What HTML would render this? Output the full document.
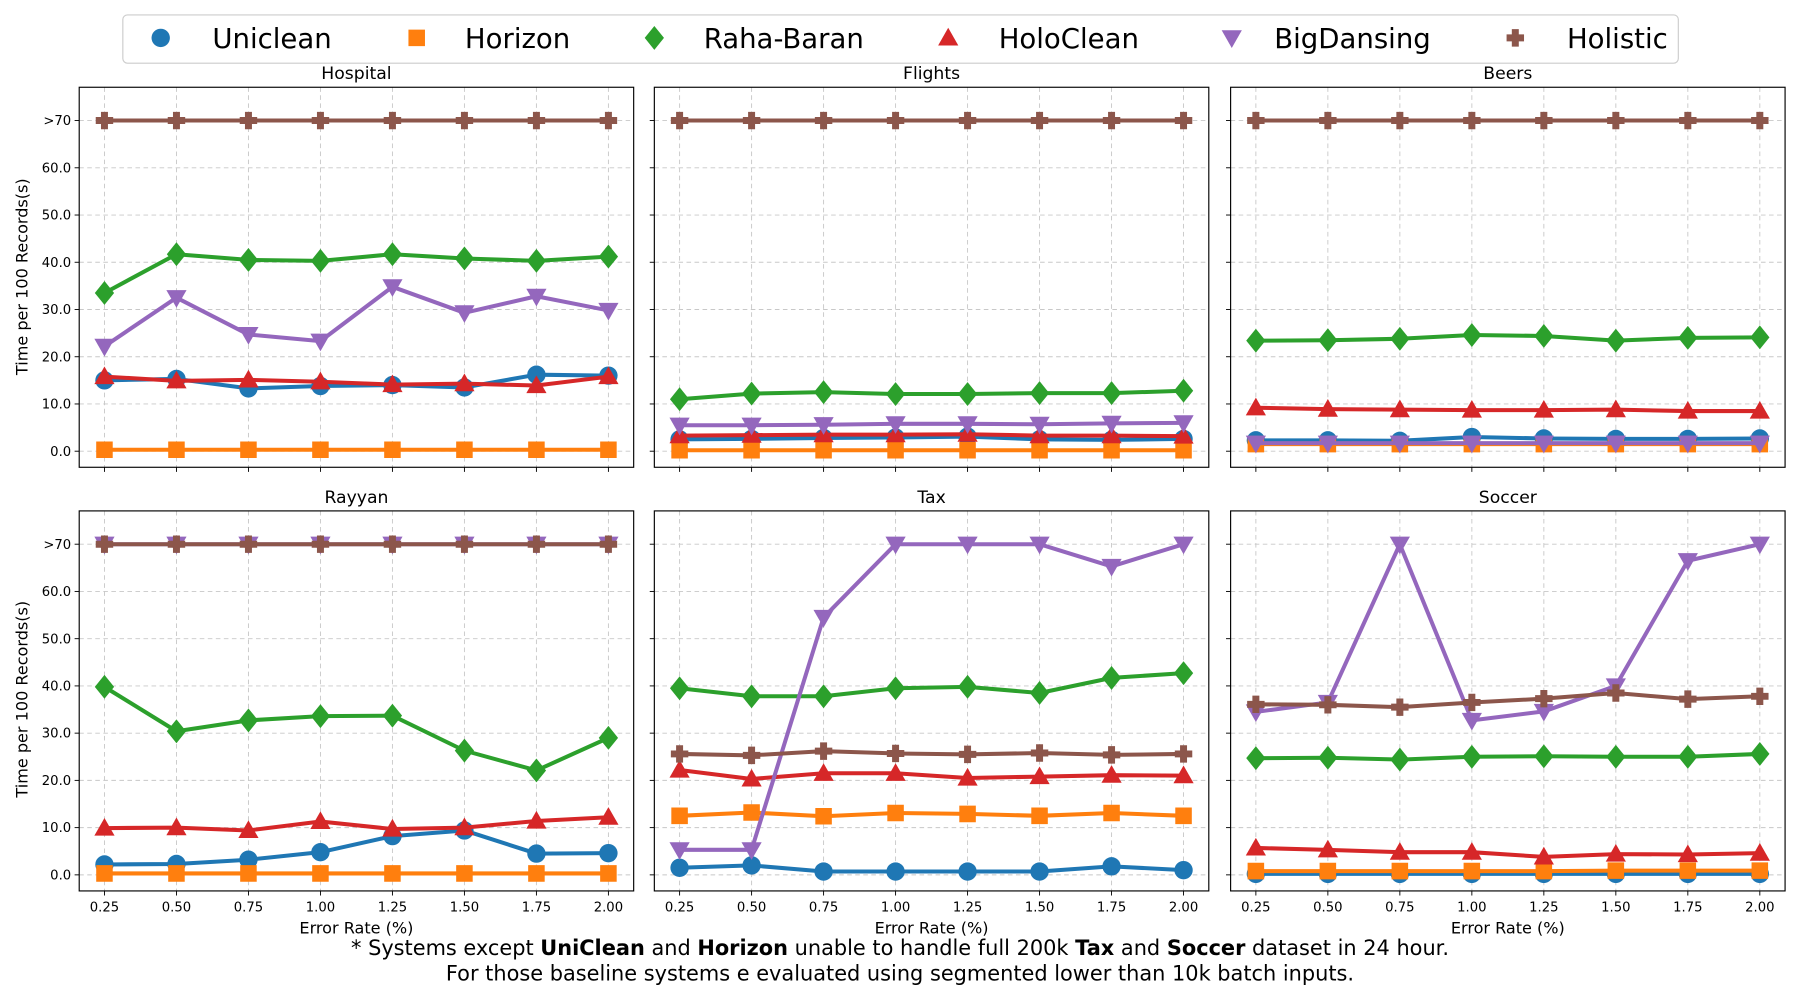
<!DOCTYPE html>
<html><head><meta charset="utf-8"><style>
html,body{margin:0;padding:0;background:#fff;}
svg{display:block;font-family:"DejaVu Sans","Liberation Sans",sans-serif;}
</style></head><body>
<svg id="chart" width="1800" height="1000" viewBox="0 0 1568 871" preserveAspectRatio="none" xmlns="http://www.w3.org/2000/svg">
<rect x="0" y="0" width="1568" height="871" fill="#fff"/>
<g id="legend">
<rect x="107" y="13" width="1355" height="42" rx="4" fill="#fff" stroke="#ccc" stroke-width="1"/>
</g>
<g id="panels"></g>
<text x="24" y="241" transform="rotate(-90 24 241)" text-anchor="middle" font-size="14">Time per 100 Records(s)</text>
<text x="24" y="609" transform="rotate(-90 24 609)" text-anchor="middle" font-size="14">Time per 100 Records(s)</text>
<text x="784" y="832" text-anchor="middle" font-size="18.2">* Systems except <tspan font-weight="bold">UniClean</tspan> and <tspan font-weight="bold">Horizon</tspan> unable to handle full 200k <tspan font-weight="bold">Tax</tspan> and <tspan font-weight="bold">Soccer</tspan> dataset in 24 hour.</text>
<text x="784" y="854" text-anchor="middle" font-size="18.2">For those baseline systems e evaluated using segmented lower than 10k batch inputs.</text>
</svg>
<script>
const xValues = [0.25,0.5,0.75,1.0,1.25,1.5,1.75,2.0];
const xTickLabels = ["0.25","0.50","0.75","1.00","1.25","1.50","1.75","2.00"];
const yTickValues = [0,10,20,30,40,50,60,70];
const yTickLabels = ["0.0","10.0","20.0","30.0","40.0","50.0","60.0",">70"];
const seriesNames = ["Uniclean","Horizon","Raha-Baran","HoloClean","BigDansing","Holistic"];
const seriesColors = ["#1f77b4","#ff7f0e","#2ca02c","#d62728","#9467bd","#8c564b"];
const seriesMarkers = ["circle","square","diamond","tri-up","tri-down","plus"];
const datasetNames = ["Hospital","Flights","Beers","Rayyan","Tax","Soccer"];

const hospitalUniclean = [15,15.3,13.3,13.8,14,13.5,16.2,16];
const hospitalHorizon = [0.3,0.3,0.3,0.3,0.3,0.3,0.3,0.3];
const hospitalRaha = [33.5,41.7,40.5,40.3,41.7,40.8,40.3,41.2];
const hospitalHolo = [15.8,14.9,15.1,14.7,14.1,14.3,13.9,15.8];
const hospitalBigD = [22.2,32.5,24.7,23.3,34.8,29.3,32.8,29.8];
const hospitalHolistic = [70,70,70,70,70,70,70,70];

const flightsUniclean = [2.5,2.6,2.8,2.9,3.1,2.5,2.4,2.6];
const flightsHorizon = [0.2,0.2,0.2,0.2,0.2,0.2,0.2,0.2];
const flightsRaha = [11,12.2,12.5,12.1,12.1,12.3,12.3,12.8];
const flightsHolo = [3.3,3.4,3.5,3.5,3.6,3.3,3.3,3.2];
const flightsBigD = [5.5,5.5,5.6,5.8,5.8,5.7,5.9,6.0];
const flightsHolistic = [70,70,70,70,70,70,70,70];

const beersUniclean = [2.3,2.3,2.2,3.0,2.7,2.6,2.6,2.7];
const beersHorizon = [1.5,1.5,1.5,1.5,1.5,1.5,1.5,1.5];
const beersRaha = [23.4,23.5,23.8,24.6,24.4,23.4,24,24.1];
const beersHolo = [9.2,8.9,8.8,8.7,8.7,8.8,8.5,8.5];
const beersBigD = [1.7,1.7,1.7,1.7,1.7,1.7,1.7,1.7];
const beersHolistic = [70,70,70,70,70,70,70,70];

const rayyanUniclean = [2.2,2.3,3.2,4.8,8.2,9.4,4.5,4.6];
const rayyanHorizon = [0.3,0.3,0.3,0.3,0.3,0.3,0.3,0.3];
const rayyanRaha = [39.8,30.4,32.7,33.6,33.7,26.3,22.1,29];
const rayyanHolo = [9.9,10,9.4,11.3,9.7,10,11.4,12.2];
const rayyanBigD = [70,70,70,70,70,70,70,70];
const rayyanHolistic = [70,70,70,70,70,70,70,70];

const taxUniclean = [1.5,2.0,0.7,0.7,0.7,0.7,1.8,1.0];
const taxHorizon = [12.5,13.2,12.4,13.1,12.9,12.5,13.1,12.5];
const taxRaha = [39.5,37.8,37.8,39.5,39.8,38.5,41.7,42.7];
const taxHolo = [22.2,20.3,21.5,21.5,20.5,20.8,21.1,21];
const taxBigD = [5.3,5.3,54.5,70,70,70,65.3,70];
const taxHolistic = [25.6,25.3,26.2,25.7,25.5,25.8,25.4,25.6];

const soccerUniclean = [0.2,0.2,0.2,0.2,0.2,0.2,0.2,0.2];
const soccerHorizon = [0.8,0.8,0.8,0.8,0.8,0.9,0.9,0.9];
const soccerRaha = [24.7,24.8,24.4,25,25.1,25,25,25.6];
const soccerHolo = [5.7,5.3,4.8,4.8,3.8,4.4,4.3,4.6];
const soccerBigD = [34.5,36.5,70,32.7,34.6,40,66.5,70];
const soccerHolistic = [36.1,36,35.5,36.5,37.3,38.5,37.2,37.8];

const allData = [
 [hospitalUniclean,hospitalHorizon,hospitalRaha,hospitalHolo,hospitalBigD,hospitalHolistic],
 [flightsUniclean,flightsHorizon,flightsRaha,flightsHolo,flightsBigD,flightsHolistic],
 [beersUniclean,beersHorizon,beersRaha,beersHolo,beersBigD,beersHolistic],
 [rayyanUniclean,rayyanHorizon,rayyanRaha,rayyanHolo,rayyanBigD,rayyanHolistic],
 [taxUniclean,taxHorizon,taxRaha,taxHolo,taxBigD,taxHolistic],
 [soccerUniclean,soccerHorizon,soccerRaha,soccerHolo,soccerBigD,soccerHolistic]
];

const NS = "http://www.w3.org/2000/svg";
function mk(tag, attrs, parent){const e=document.createElementNS(NS,tag);for(const k in attrs)e.setAttribute(k,attrs[k]);if(parent)parent.appendChild(e);return e;}

function markerPath(type, cx, cy, s){
  if(type==="circle") return `M${cx-s},${cy}a${s},${s} 0 1,0 ${2*s},0a${s},${s} 0 1,0 ${-2*s},0Z`;
  if(type==="square"){const h=s*0.9;return `M${cx-h},${cy-h}h${2*h}v${2*h}h${-2*h}Z`;}
  if(type==="diamond"){const w=s*1.05,h=s*1.3;return `M${cx},${cy-h}L${cx+w},${cy}L${cx},${cy+h}L${cx-w},${cy}Z`;}
  if(type==="tri-up"){const h=s*1.1;return `M${cx},${cy-h}L${cx+h},${cy+h*0.75}L${cx-h},${cy+h*0.75}Z`;}
  if(type==="tri-down"){const h=s*1.1;return `M${cx},${cy+h}L${cx+h},${cy-h*0.75}L${cx-h},${cy-h*0.75}Z`;}
  if(type==="plus"){const a=s*0.95,b=s*0.38;return `M${cx-b},${cy-a}h${2*b}v${a-b}h${a-b}v${2*b}h${b-a}v${a-b}h${-2*b}v${b-a}h${b-a}v${-2*b}h${a-b}Z`;}
}

const legend = document.getElementById('legend');
const legMX = [140,363,570,826,1073,1320];
const legTX = [185,405,613,870,1110,1365];
seriesNames.forEach((n,i)=>{
  const g = mk('g',{},legend);
  
  
  mk('path',{d:markerPath(seriesMarkers[i],legMX[i],33,8),fill:seriesColors[i]},g);
  const t = mk('text',{x:legTX[i],y:42,'font-size':24},g);
  t.textContent = n;
});

const panelsG = document.getElementById('panels');
const colX = [69,570,1072];
const rowY = [76,445];
const PW = 483, PH = 331;
const xMin = 0.1623, xMax = 2.0877;

datasetNames.forEach((ds,di)=>{
  const col = di%3, row = Math.floor(di/3);
  const L = colX[col], T = rowY[row];
  const zeroY = T + 317, pxPer = 288/70;
  const xs = v => L + (v - xMin)/(xMax - xMin)*PW;
  const ys = v => zeroY - v*pxPer;
  const g = mk('g',{},panelsG);
  
  
  const title = mk('text',{x:L+PW/2,y:T-7,'text-anchor':'middle','font-size':15},g);
  
  
  title.textContent = ds;
  yTickValues.forEach((v,i)=>{
    const y = ys(v);
    mk('line',{x1:L,x2:L+PW,y1:y,y2:y,stroke:'#c8c8c8','stroke-width':0.8,'stroke-dasharray':'4,3'},g);
    mk('line',{x1:L-4,x2:L,y1:y,y2:y,stroke:'#000','stroke-width':0.8},g);
    if(col===0){
      const t = mk('text',{x:L-7,y:y+4,'text-anchor':'end','font-size':11.5},g);
      
      
      t.textContent = yTickLabels[i];
    }
  });
  xValues.forEach((v,i)=>{
    const x = xs(v);
    mk('line',{x1:x,x2:x,y1:T,y2:T+PH,stroke:'#c8c8c8','stroke-width':0.8,'stroke-dasharray':'4,3'},g);
    mk('line',{x1:x,x2:x,y1:T+PH,y2:T+PH+4,stroke:'#000','stroke-width':0.8},g);
    if(row===1){
      const t = mk('text',{x:x,y:T+PH+18,'text-anchor':'middle','font-size':11.5},g);
      
      
      t.textContent = xTickLabels[i];
    }
  });
  if(row===1){
    const t = mk('text',{x:L+PW/2,y:T+PH+37,'text-anchor':'middle','font-size':14},g);
    
    
    t.textContent = 'Error Rate (%)';
  }
  const frame = mk('rect',{x:L,y:T,width:PW,height:PH,fill:'none',stroke:'#000','stroke-width':1},g);
  
  
  allData[di].forEach((vals,si)=>{
    const sg = mk('g',{},g);
    
    
    const pts = vals.map((v,i)=>xs(xValues[i])+','+ys(v)).join(' ');
    const pl = mk('polyline',{points:pts,fill:'none',stroke:seriesColors[si],'stroke-width':3.5,'stroke-linejoin':'round'},sg);
    
    
    vals.forEach((v,i)=>{
      const p = mk('path',{d:markerPath(seriesMarkers[si],xs(xValues[i]),ys(v),8),fill:seriesColors[si]},sg);
      
      
    });
  });
});
</script>
</body></html>
